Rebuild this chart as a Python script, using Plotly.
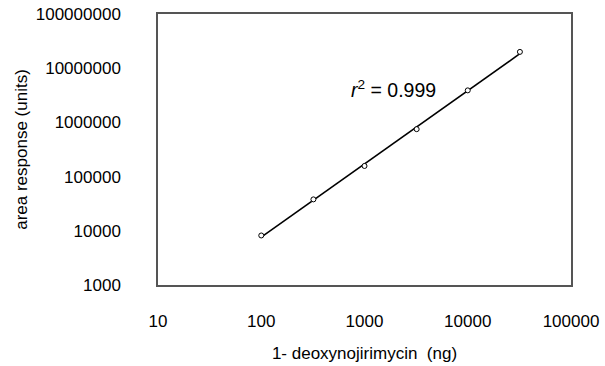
import numpy as np
import plotly.graph_objects as go

# data
amount_ng = [100, 320, 1000, 3200, 10000, 32000]
area_response = [8200, 38000, 157000, 750000, 3900000, 20000000]

x_ticks = [10, 100, 1000, 10000, 100000]
y_ticks = [1000, 10000, 100000, 1000000, 10000000, 100000000]
r2_text = "<i>r</i><sup>2</sup> = 0.999"

# least-squares fit in log-log space (trend line)
lx = np.log10(amount_ng)
ly = np.log10(area_response)
slope, intercept = np.polyfit(lx, ly, 1)
fit_x = [amount_ng[0], amount_ng[-1]]
fit_y = [10 ** (intercept + slope * np.log10(v)) for v in fit_x]

font_family = "Liberation Sans, Arial, sans-serif"

fig = go.Figure()
fig.add_trace(go.Scatter(
    x=fit_x, y=fit_y, mode="lines",
    line=dict(color="black", width=1.6),
    showlegend=False, hoverinfo="skip"))
fig.add_trace(go.Scatter(
    x=amount_ng, y=area_response, mode="markers",
    marker=dict(symbol="circle", size=5, color="white",
                line=dict(color="black", width=1)),
    showlegend=False))

fig.update_layout(
    width=605, height=366,
    margin=dict(l=158, r=34, t=14, b=81),
    paper_bgcolor="white", plot_bgcolor="white",
    font=dict(family=font_family, size=17, color="black"),
    xaxis=dict(
        type="log", range=[1, 5], automargin=False,
        tickvals=x_ticks, ticktext=[str(v) for v in x_ticks],
        showgrid=False, zeroline=False,
        showline=True, linecolor="#555555", linewidth=1.5, mirror=True,
        ticks="", ticklabelstandoff=20,
        title=dict(text="1- deoxynojirimycin\u00a0\u00a0(ng)", standoff=17,
                   font=dict(size=17)),
    ),
    yaxis=dict(
        type="log", range=[3, 8], automargin=False,
        tickvals=y_ticks, ticktext=[str(v) for v in y_ticks],
        showgrid=False, zeroline=False,
        showline=True, linecolor="#555555", linewidth=1.5, mirror=True,
        ticks="", ticklabelstandoff=32,
        title=dict(text="area response (units)", standoff=4,
                   font=dict(size=17)),
    ),
    annotations=[dict(
        text=r2_text, xref="paper", yref="paper",
        x=0.463, y=0.725, xanchor="left", yanchor="middle",
        showarrow=False, font=dict(size=19.5, color="black"))],
)

fig.write_html("out.html",
               config={"displayModeBar": False},
               post_script="document.body.style.margin='0';"
                           "document.body.style.overflow='hidden';")
